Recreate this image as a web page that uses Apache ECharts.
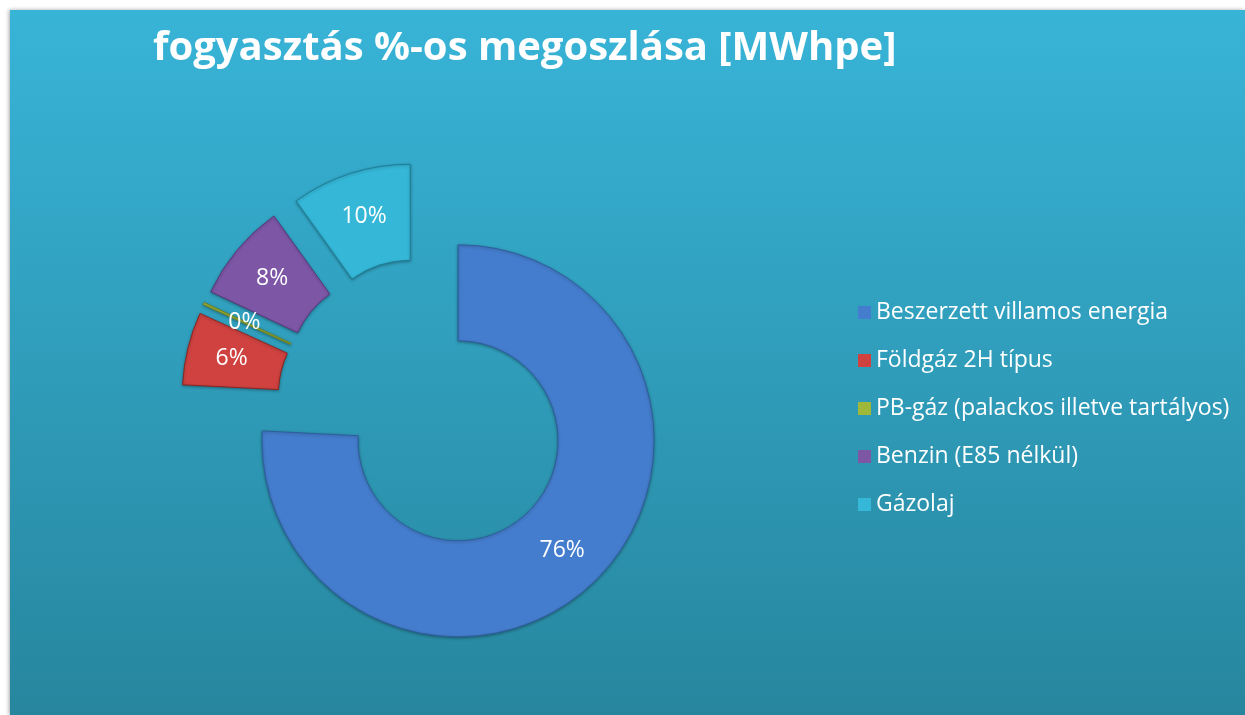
<!DOCTYPE html>
<html>
<head>
<meta charset="utf-8">
<script src="https://cdn.jsdelivr.net/npm/echarts@6/dist/echarts.min.js"></script>
<style>
html,body{margin:0;padding:0;background:#fff;}
#chart{width:1245px;height:715px;}
</style>
</head>
<body>
<div id="chart"></div>
<script>
const titleText = 'fogyasztás %-os megoszlása [MWhpe]';
const categories = ['Beszerzett villamos energia', 'Földgáz 2H típus', 'PB-gáz (palackos illetve tartályos)', 'Benzin (E85 nélkül)', 'Gázolaj'];
const values = [75.8, 6.0, 0.2, 8.1, 9.9];
const colors = ['#447dcd', '#cf4240', '#9fb83a', '#7d56a6', '#35b7d7'];
const borders = ['#2f5d9e', '#8e2520', '#6f8220', '#553a7a', '#1d7f98'];

const chart = echarts.init(document.getElementById('chart'), null, {renderer: 'canvas'});
const option = {
  animation: false,
  graphic: [{
    type: 'rect', z: -10, silent: true,
    shape: {x: 10, y: 10, width: 1235, height: 705},
    style: {
      fill: new echarts.graphic.LinearGradient(0, 0, 0, 1, [
        {offset: 0, color: '#38b4d7'},
        {offset: 1, color: '#27869e'}
      ]),
      shadowBlur: 4, shadowColor: 'rgba(0,0,0,0.35)', shadowOffsetX: -1
    }
  }],
  title: {
    text: titleText,
    left: 148, top: 24,
    textStyle: {color: '#ffffff', fontSize: 40, fontWeight: 'bold', fontFamily: 'Open Sans'}
  },
  legend: {
    orient: 'vertical',
    left: 853, top: 296,
    itemWidth: 13, itemHeight: 13, itemGap: 25,
    icon: 'rect',
    itemStyle: {borderWidth: 0},
    textStyle: {color: '#ffffff', fontSize: 23, fontFamily: 'Open Sans', padding: [0, 0, 0, 0], lineHeight: 23},
    data: categories
  },
  series: [{
    type: 'pie',
    center: [425, 406],
    radius: [100, 196],
    startAngle: 90,
    clockwise: true,
    selectedMode: 'multiple',
    selectedOffset: 48,
    avoidLabelOverlap: false,
    emphasis: {disabled: true},
    label: {
      show: true,
      position: 'inside',
      color: '#ffffff',
      fontSize: 23,
      fontFamily: 'Open Sans',
      formatter: p => Math.round(p.percent) + '%'
    },
    labelLine: {show: false},
    data: categories.map((c, i) => ({
      name: c,
      value: values[i],
      selected: true,
      itemStyle: {
        color: colors[i],
        borderColor: borders[i],
        borderWidth: 1,
        shadowBlur: 3, shadowColor: 'rgba(0,0,0,0.3)', shadowOffsetY: 1
      }
    }))
  }]
};
chart.setOption(option);
</script>
</body>
</html>
